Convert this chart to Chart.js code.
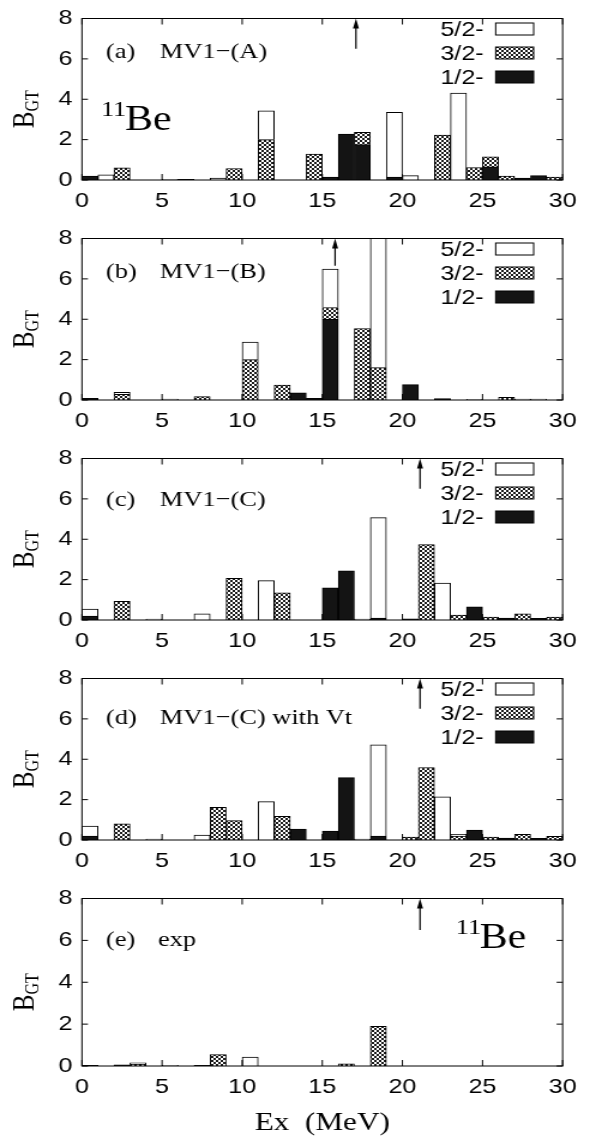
<!DOCTYPE html>
<html>
<head>
<meta charset="utf-8">
<script src="https://cdn.jsdelivr.net/npm/chart.js@4.4.1/dist/chart.umd.min.js"></script>
<style>
  html, body { margin: 0; padding: 0; background: #fff; }
  #wrap { position: relative; width: 590px; height: 1139px; }
  #wrap canvas { position: absolute; left: 0; }
</style>
</head>
<body>
<div id="wrap"></div>
<script>
// bin centres (1 MeV bins), Ex in MeV
const exBins = [0.5, 1.5, 2.5, 3.5, 4.5, 5.5, 6.5, 7.5, 8.5, 9.5,
  10.5, 11.5, 12.5, 13.5, 14.5, 15.5, 16.5, 17.5, 18.5, 19.5,
  20.5, 21.5, 22.5, 23.5, 24.5, 25.5, 26.5, 27.5, 28.5, 29.5];
const xTicks = [0, 5, 10, 15, 20, 25, 30];
const yTicks = [0, 2, 4, 6, 8];
const spinLabels = ['5/2-', '3/2-', '1/2-'];

// B_GT per bin, (a) MV1-(A)
const j12A = [0.2,0,0,0,0,0,0.03,0,0,0, 0,0,0,0,0,0.14,2.27,1.75,0,0.15, 0,0,0,0,0,0.65,0,0.1,0.22,0];
const j32A = [0,0,0.6,0,0,0,0,0,0,0.57, 0,2.0,0,0,1.28,0,0,0.61,0,0, 0,0,2.22,0,0.62,0.5,0.2,0,0,0.15];
const j52A = [0,0.25,0,0,0,0.03,0,0,0.1,0, 0,1.43,0,0,0,0,0,0,0,3.2, 0.22,0,0,4.3,0,0,0,0,0,0];
// (b) MV1-(B)
const j12B = [0.08,0,0,0,0,0,0,0,0,0, 0,0,0,0.36,0.08,4.0,0,0,0,0, 0.76,0,0.07,0,0,0,0,0,0,0];
const j32B = [0,0,0.28,0,0,0,0,0.17,0,0, 2.0,0,0.74,0,0,0.58,0,3.54,1.6,0, 0,0,0,0,0,0,0.13,0,0,0];
const j52B = [0,0,0.1,0,0,0.04,0,0,0,0, 0.87,0,0,0,0,1.91,0,0,7.0,0, 0,0,0,0,0.03,0,0,0.04,0.04,0];
// (c) MV1-(C)
const j12C = [0.2,0,0,0,0,0,0,0,0,0, 0,0,0,0,0,1.59,2.44,0,0.1,0, 0.06,0,0,0,0.65,0,0.1,0,0.08,0];
const j32C = [0,0,0.93,0,0,0,0,0,0,2.06, 0,0,1.35,0,0,0,0,0,0,0, 0,3.73,0,0.24,0,0.15,0,0.31,0,0.14];
const j52C = [0.34,0,0,0,0.04,0,0,0.31,0,0, 0,1.95,0,0,0,0,0,0.04,4.97,0, 0,0,1.83,0,0,0,0,0,0,0];
// (d) MV1-(C) with Vt
const j12D = [0.2,0,0,0,0,0,0,0,0,0, 0,0,0,0.54,0,0.44,3.09,0,0.2,0, 0,0,0,0,0.49,0,0.1,0,0.08,0];
const j32D = [0,0,0.8,0,0,0,0,0,1.62,0.96, 0,0,1.17,0,0,0,0,0,0,0, 0.15,3.59,0,0.2,0,0.15,0,0.28,0,0.18];
const j52D = [0.49,0,0,0,0.04,0,0,0.24,0,0, 0,1.9,0,0,0,0,0,0.04,4.51,0, 0,0,2.14,0.08,0,0,0,0,0,0];
// (e) exp
const j12E = [0.03,0,0.06,0,0,0,0,0.03,0,0, 0,0,0,0,0,0,0,0,0,0, 0,0,0,0,0,0,0,0,0,0];
const j32E = [0,0,0,0.08,0,0,0,0,0.54,0, 0,0,0,0,0,0,0.1,0,1.9,0, 0,0,0,0,0,0,0,0,0,0];
const j52E = [0,0,0,0.07,0,0.03,0,0,0,0, 0.43,0,0,0,0,0,0,0,0,0, 0,0,0,0,0,0,0,0,0,0];

const panelTags = ['(a)', '(b)', '(c)', '(d)', '(e)'];
const panelNames = ['MV1\u2212(A)', 'MV1\u2212(B)', 'MV1\u2212(C)', 'MV1\u2212(C) with Vt', 'exp'];
const arrowEx = [17.1, 15.8, 21.1, 21.1, 21.1];
const arrowFrom = [6.5, 6.65, 6.5, 6.5, 6.5];

const half = [j12A, j12B, j12C, j12D, j12E];
const threeHalf = [j32A, j32B, j32C, j32D, j32E];
const fiveHalf = [j52A, j52B, j52C, j52D, j52E];

// layout (real px, the figure is stretched horizontally by SX)
const SX = 1.2;
const INT_W = Math.round(590 / SX);
const X = v => v / SX;
const PLOT_L = 82, PLOT_R = 563;
const tops = [0, 220, 440, 660, 880];
const heights = [220, 220, 220, 220, 259];
const plotBottom = [180, 180, 180, 180, 186];
const tagBase = [58, 58, 66, 64, 66];
const SANS = '"Liberation Sans", Arial, sans-serif';
const SERIF = '"Liberation Serif", "Times New Roman", serif';

Chart.defaults.color = '#000';

function makeHatch(ctx) {
  const c = document.createElement('canvas');
  c.width = 4; c.height = 4;
  const g = c.getContext('2d');
  g.fillStyle = '#fff'; g.fillRect(0, 0, 4, 4);
  g.fillStyle = '#1c1c1c'; g.fillRect(0, 0, 2, 2); g.fillRect(2, 2, 2, 2);
  return ctx.createPattern(c, 'repeat');
}

const wrap = document.getElementById('wrap');

for (let i = 0; i < 5; i++) {
  const cv = document.createElement('canvas');
  cv.width = INT_W;
  cv.height = heights[i];
  cv.style.width = '590px';
  cv.style.height = heights[i] + 'px';
  cv.style.top = tops[i] + 'px';
  wrap.appendChild(cv);
  const hatch = makeHatch(cv.getContext('2d'));
  const last = i === 4;

  const deco = {
    id: 'deco',
    afterDraw(chart) {
      const { ctx, chartArea: a, scales: { x, y } } = chart;
      ctx.save();
      ctx.strokeStyle = '#000';
      ctx.lineWidth = 1;
      ctx.strokeRect(a.left, a.top, a.right - a.left, a.bottom - a.top);
      ctx.beginPath();
      xTicks.forEach(v => {
        const px = x.getPixelForValue(v);
        ctx.moveTo(px, a.bottom); ctx.lineTo(px, a.bottom - 6);
        ctx.moveTo(px, a.top); ctx.lineTo(px, a.top + 6);
      });
      yTicks.forEach(v => {
        const py = y.getPixelForValue(v);
        ctx.moveTo(a.left, py); ctx.lineTo(a.left + 5, py);
        ctx.moveTo(a.right, py); ctx.lineTo(a.right - 5, py);
      });
      ctx.stroke();

      // arrow
      const ax = x.getPixelForValue(arrowEx[i]);
      ctx.beginPath();
      ctx.lineWidth = 1.2;
      ctx.moveTo(ax, y.getPixelForValue(arrowFrom[i]));
      ctx.lineTo(ax, a.top + 6);
      ctx.stroke();
      ctx.beginPath();
      ctx.fillStyle = '#000';
      ctx.moveTo(ax, a.top);
      ctx.lineTo(ax - 2.5, a.top + 10);
      ctx.lineTo(ax + 2.5, a.top + 10);
      ctx.closePath();
      ctx.fill();

      // panel label
      ctx.fillStyle = '#000';
      ctx.textBaseline = 'alphabetic';
      ctx.textAlign = 'left';
      ctx.font = '22px ' + SERIF;
      ctx.fillText(panelTags[i], X(106), tagBase[i]);
      ctx.fillText(panelNames[i], X(last ? 158 : 160), tagBase[i]);

      // nucleus label
      if (i === 0 || last) {
        const nx = i === 0 ? 101 : 456;
        const nb = i === 0 ? 130 : 68;
        ctx.font = '22px ' + SERIF;
        ctx.fillText('11', X(nx), nb - 14);
        ctx.font = '35px ' + SERIF;
        ctx.fillText('Be', X(nx + 24), nb);
      }

      // legend
      if (!last) {
        const fills = ['#fff', hatch, '#141414'];
        ctx.font = '21px ' + SANS;
        ctx.textAlign = 'right';
        for (let k = 0; k < 3; k++) {
          const base = 36 + 24 * k;
          ctx.fillStyle = '#000';
          ctx.fillText(spinLabels[k], X(484), base);
          ctx.fillStyle = fills[k];
          ctx.fillRect(X(496), base - 13, X(38), 12);
          ctx.lineWidth = 1;
          ctx.strokeRect(X(496), base - 13, X(38), 12);
        }
      }

      // y title B_GT
      ctx.translate(X(34), (a.top + a.bottom) / 2 + 10);
      ctx.rotate(-Math.PI / 2);
      ctx.textAlign = 'left';
      ctx.fillStyle = '#000';
      ctx.font = '25px ' + SERIF;
      const wB = ctx.measureText('B').width;
      ctx.font = '16px ' + SERIF;
      const wG = ctx.measureText('GT').width;
      const start = -(wB + wG) / 2;
      ctx.font = '25px ' + SERIF;
      ctx.fillText('B', start, 0);
      ctx.font = '16px ' + SERIF;
      ctx.fillText('GT', start + wB, 4);
      ctx.restore();
    }
  };

  new Chart(cv, {
    type: 'bar',
    data: {
      labels: exBins,
      datasets: [
        { label: '1/2-', data: half[i], backgroundColor: '#141414', borderColor: '#000', borderWidth: 1 },
        { label: '3/2-', data: threeHalf[i], backgroundColor: hatch, borderColor: '#000', borderWidth: 1 },
        { label: '5/2-', data: fiveHalf[i], backgroundColor: '#fff', borderColor: '#000', borderWidth: 1 }
      ]
    },
    options: {
      responsive: false,
      animation: false,
      events: [],
      categoryPercentage: 1,
      barPercentage: 1,
      layout: { padding: { top: 12, right: INT_W - X(PLOT_R), left: 0, bottom: 0 } },
      plugins: { legend: { display: false }, tooltip: { enabled: false } },
      scales: {
        x: {
          type: 'linear',
          stacked: true,
          offset: false,
          min: 0,
          max: 30,
          grid: { display: false, drawTicks: false },
          border: { display: false },
          ticks: { stepSize: 5, padding: 11, font: { family: SANS, size: 21, lineHeight: 1 }, maxRotation: 0 },
          title: {
            display: last,
            text: 'Ex  (MeV)',
            font: { family: SERIF, size: 26, lineHeight: 1.2 },
            padding: { top: 2, bottom: 0 }
          },
          afterFit(scale) { scale.height = heights[i] - plotBottom[i]; }
        },
        y: {
          stacked: true,
          min: 0,
          max: 8,
          grid: { display: false, drawTicks: false },
          border: { display: false },
          ticks: { stepSize: 2, padding: 8, font: { family: SANS, size: 21, lineHeight: 1 } },
          afterFit(scale) { scale.width = X(PLOT_L); }
        }
      }
    },
    plugins: [deco]
  });
}
</script>
</body>
</html>
